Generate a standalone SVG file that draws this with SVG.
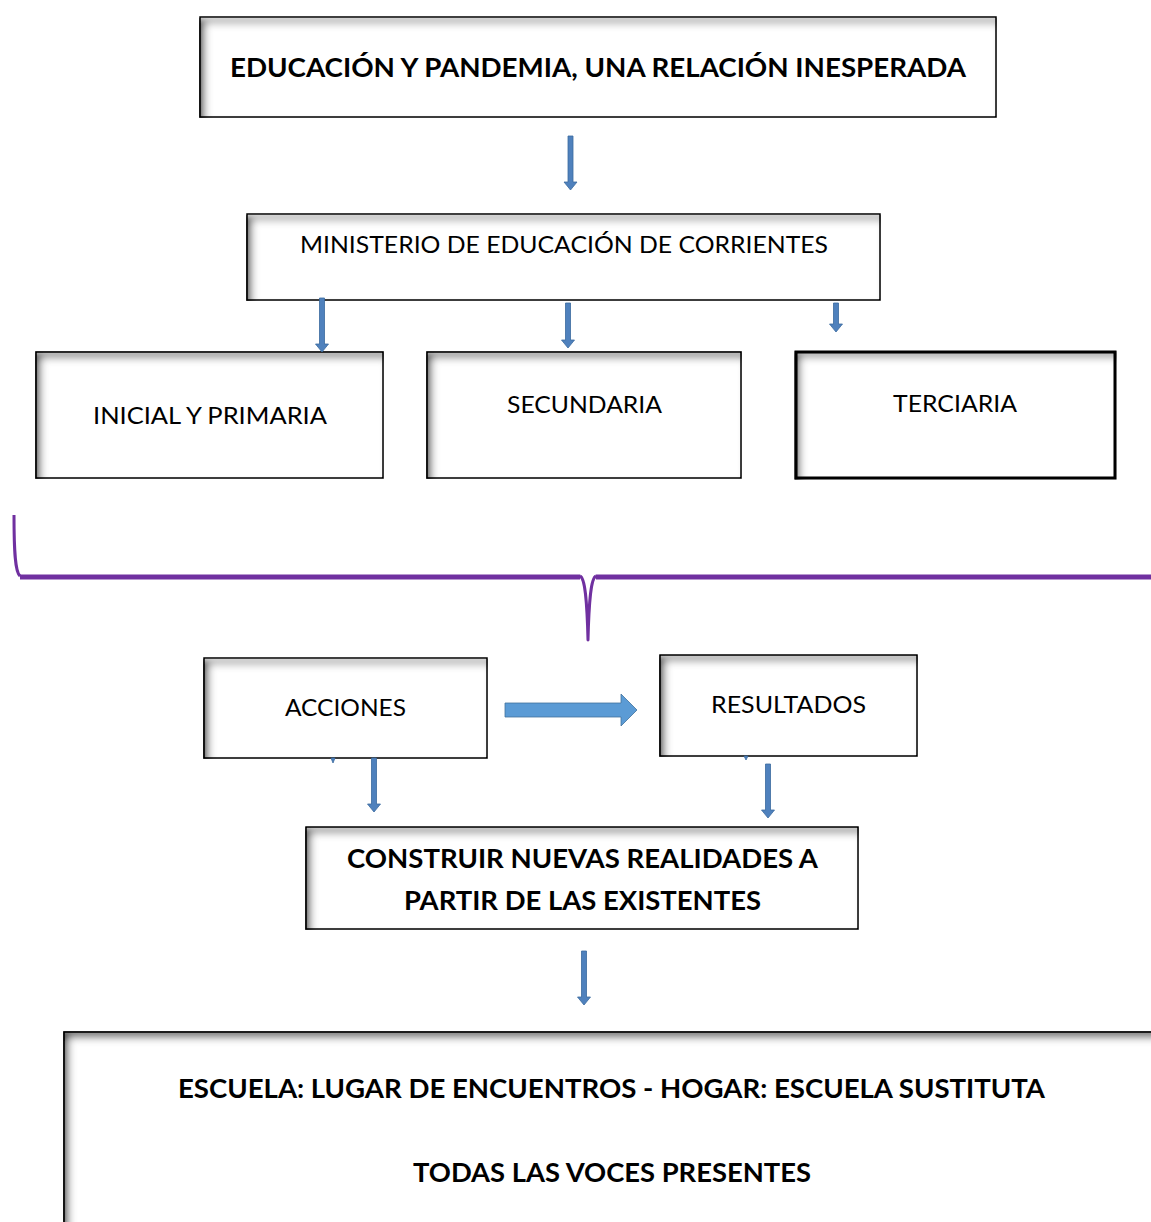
<svg xmlns="http://www.w3.org/2000/svg" width="1151" height="1222" viewBox="0 0 1151 1222">
<style>
.box{fill:#fff;stroke:#000;stroke-width:1.5;filter:url(#inner)}
.t{font-family:Lato,"Open Sans","Liberation Sans",sans-serif;font-size:24px;fill:#000;text-anchor:middle}
.b{font-weight:bold;font-size:27px}
.arr{fill:#4F81BD;stroke:#3A6A9E;stroke-width:0.8}
.brace{fill:none;stroke:#7030A0;stroke-linejoin:round}
</style>
<defs>
<filter id="inner" x="-5%" y="-5%" width="110%" height="110%">
<feFlood flood-color="#000" flood-opacity="1" result="f"/>
<feComposite in="f" in2="SourceAlpha" operator="out" result="o"/>
<feGaussianBlur in="o" stdDeviation="4" result="bl"/>
<feOffset in="bl" dx="5" dy="6" result="off"/>
<feComposite in="off" in2="SourceAlpha" operator="in" result="sh"/>
<feMerge><feMergeNode in="SourceGraphic"/><feMergeNode in="sh"/></feMerge>
</filter>
</defs>

<g id="title"><rect class="box" x="200" y="17" width="796" height="100"/>
<text class="t b" x="598" y="77" textLength="736" lengthAdjust="spacingAndGlyphs">EDUCACIÓN Y PANDEMIA, UNA RELACIÓN INESPERADA</text></g>

<g id="ministerio"><rect class="box" x="247" y="214" width="633" height="86"/>
<text class="t" x="564" y="253" textLength="528" lengthAdjust="spacingAndGlyphs">MINISTERIO DE EDUCACIÓN DE CORRIENTES</text></g>

<g id="inicial"><rect class="box" x="36" y="352" width="347" height="126"/>
<text class="t" x="210" y="424" textLength="234" lengthAdjust="spacingAndGlyphs">INICIAL Y PRIMARIA</text></g>

<g id="secundaria"><rect class="box" x="427" y="352" width="314" height="126"/>
<text class="t" x="584.5" y="413" textLength="155" lengthAdjust="spacingAndGlyphs">SECUNDARIA</text></g>

<g id="terciaria"><rect class="box" x="796" y="352" width="319" height="126" style="stroke-width:3"/>
<text class="t" x="955" y="412" textLength="124" lengthAdjust="spacingAndGlyphs">TERCIARIA</text></g>

<g id="acciones"><rect class="box" x="204" y="658" width="283" height="100"/>
<text class="t" x="345.5" y="716" textLength="121" lengthAdjust="spacingAndGlyphs">ACCIONES</text></g>

<g id="resultados"><rect class="box" x="660" y="655" width="257" height="101"/>
<text class="t" x="788.5" y="713" textLength="155" lengthAdjust="spacingAndGlyphs">RESULTADOS</text></g>

<g id="construir"><rect class="box" x="306" y="827" width="552" height="102"/>
<text class="t b" x="582.5" y="868" textLength="471" lengthAdjust="spacingAndGlyphs">CONSTRUIR NUEVAS REALIDADES A</text>
<text class="t b" x="582.5" y="910" textLength="357" lengthAdjust="spacingAndGlyphs">PARTIR DE LAS EXISTENTES</text></g>

<g id="escuela"><rect class="box" x="64" y="1032" width="1100" height="200"/>
<text class="t b" x="611.5" y="1098" textLength="867" lengthAdjust="spacingAndGlyphs">ESCUELA: LUGAR DE ENCUENTROS - HOGAR: ESCUELA SUSTITUTA</text>
<text class="t b" x="612" y="1182" textLength="398" lengthAdjust="spacingAndGlyphs">TODAS LAS VOCES PRESENTES</text></g>

<g id="connectors">
<path class="arr" d="M568,136 h5 v46 h4 l-6.5,8 l-6.5,-8 h4 z"/>
<path class="arr" d="M319.5,298 h5 v46 h4 l-6.5,8 l-6.5,-8 h4 z"/>
<path class="arr" d="M565.5,303 h5 v37 h4 l-6.5,8 l-6.5,-8 h4 z"/>
<path class="arr" d="M833.5,303 h5 v21 h4 l-6.5,8 l-6.5,-8 h4 z"/>
<path class="arr" d="M331,758 h4 l-2,5 z"/>
<path class="arr" d="M744,756 h4 l-2,4 z"/>
<path class="arr" d="M371.5,758 h5 v46 h4 l-6.5,8 l-6.5,-8 h4 z"/>
<path class="arr" d="M765.5,764 h5 v46 h4 l-6.5,8 l-6.5,-8 h4 z"/>
<path class="arr" d="M581.5,951 h5 v46 h4 l-6.5,8 l-6.5,-8 h4 z"/>
<path class="arr" d="M505,703 h116 v-9 l16,16 l-16,16 v-9 h-116 z" style="fill:#5B9BD5;stroke:#41719C"/>
<path class="brace" style="stroke-width:3" d="M14,515 C14,550 15,572 20,576"/>
<path class="brace" style="stroke-width:5" d="M20,577 H580"/>
<path class="brace" style="stroke-width:3" d="M580,576 C585,578 587,600 588,640 C589,600 591,578 596,576"/>
<path class="brace" style="stroke-width:5" d="M596,577 H1151"/>
</g>
</svg>
